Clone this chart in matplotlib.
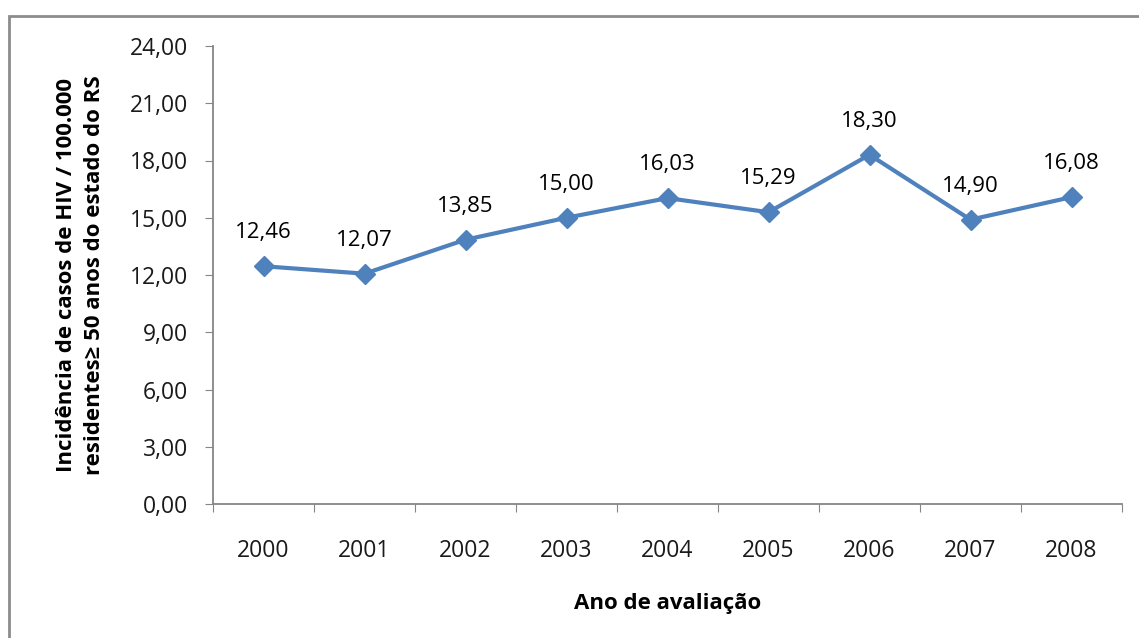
import matplotlib.pyplot as plt
from matplotlib.patches import Rectangle

anos = ['2000', '2001', '2002', '2003', '2004', '2005', '2006', '2007', '2008']
incidencia = [12.46, 12.07, 13.85, 15.00, 16.03, 15.29, 18.30, 14.90, 16.08]
y_ticks = [0, 3, 6, 9, 12, 15, 18, 21, 24]


def br(v):
    return f'{v:.2f}'.replace('.', ',')


plt.rcParams['font.family'] = ['Open Sans', 'DejaVu Sans']

fig = plt.figure(figsize=(11.39, 6.38), dpi=100)
fig.patches.append(Rectangle((9 / 1139, -0.1), 1.2, (638 - 16) / 638 + 0.1,
                             transform=fig.transFigure, fill=False,
                             edgecolor='#8c8c8c', linewidth=2))

ax = fig.add_axes([213 / 1139, (638 - 504) / 638, (1122 - 213) / 1139, (504 - 46) / 638])
x = list(range(len(anos)))
ax.plot(x, incidencia, color='#4f81bd', linewidth=3, marker='D', markersize=10,
        markeredgecolor='#4f81bd', zorder=3)
for xi, v in zip(x, incidencia):
    ax.annotate(br(v), (xi, v), xytext=(0, 24), textcoords='offset points',
                ha='center', va='center', fontsize=16, color='black')

ax.set_xlim(-0.5, len(anos) - 0.5)
ax.set_ylim(0, 24)
ax.set_yticks(y_ticks)
ax.set_yticklabels([br(v) for v in y_ticks], fontsize=16.5, color='#1a1a1a')
ax.set_xticks([i - 0.5 for i in range(len(anos) + 1)], minor=False)
ax.set_xticklabels([])
ax.set_xticks(x, minor=True)
ax.set_xticklabels(anos, minor=True, fontsize=16.5, color='#1a1a1a')
ax.tick_params(axis='x', which='minor', length=0, pad=25)
ax.tick_params(axis='x', which='major', length=6, color='#868686')
ax.tick_params(axis='y', length=6, color='#868686', pad=12)

for s in ['top', 'right']:
    ax.spines[s].set_visible(False)
for s in ['left', 'bottom']:
    ax.spines[s].set_color('#868686')
    ax.spines[s].set_linewidth(1.3)

ax.set_xlabel('Ano de avaliação', fontsize=16, fontweight='bold', labelpad=22)
ax.set_ylabel('Incidência de casos de HIV / 100.000\nresidentes≥ 50 anos do estado do RS',
              fontsize=16, fontweight='bold', labelpad=18, linespacing=1.4)

fig.savefig('out.png', dpi=100)
